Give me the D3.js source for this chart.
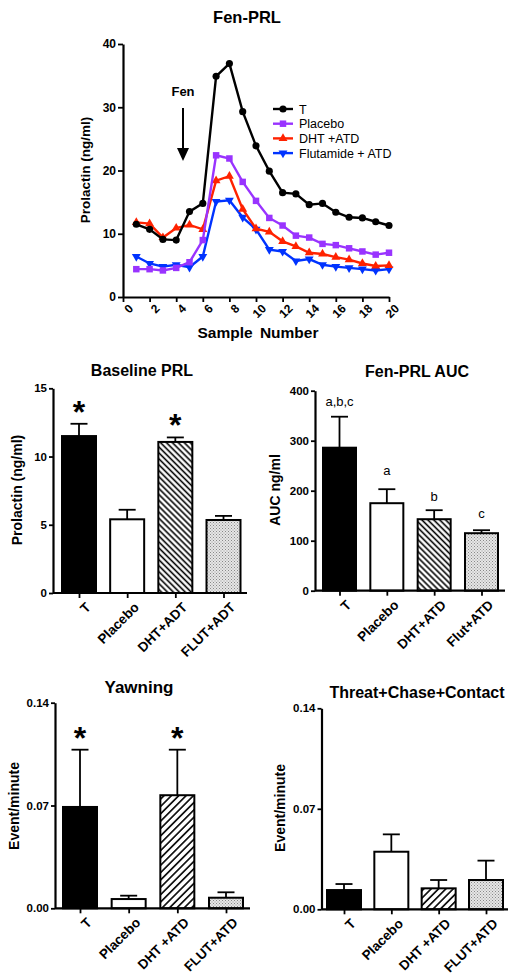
<!DOCTYPE html>
<html><head><meta charset="utf-8">
<script src="https://cdn.jsdelivr.net/npm/d3@7"></script>
<style>
body{margin:0;background:#fff;}
svg{display:block;font-family:"Liberation Sans",Arial,sans-serif;}
</style></head>
<body><svg id="c" width="519" height="979"></svg>
<script>
// ---------- DATA ----------
const sampleNumbers = [1,2,3,4,5,6,7,8,9,10,11,12,13,14,15,16,17,18,19,20];
const xTickValues = [0,2,4,6,8,10,12,14,16,18,20];
const yTickValuesLine = [0,10,20,30,40];
const seriesNames = ["T","Placebo","DHT +ATD","Flutamide + ATD"];
const seriesT =        [11.5,10.7,9.1,9.0,13.5,14.8,34.9,36.9,29.3,23.9,19.9,16.5,16.3,14.6,14.8,13.4,12.6,12.5,11.9,11.3];
const seriesPlacebo =  [4.4,4.4,4.2,4.6,5.5,9.0,22.4,21.9,18.2,15.2,12.5,11.3,9.7,9.4,8.4,8.2,7.7,7.2,6.7,7.0];
const seriesDHT =      [11.8,11.6,9.4,10.9,11.4,10.7,18.4,19.1,13.9,10.8,10.3,8.8,8.0,7.0,6.8,6.3,5.9,5.3,4.9,5.0];
const seriesFlut =     [6.4,5.3,4.8,5.1,4.7,6.4,15.1,15.3,12.6,10.7,7.5,7.2,5.7,6.0,5.1,4.8,4.6,4.4,4.2,4.4];

const baselineCats = ["T","Placebo","DHT+ADT","FLUT+ADT"];
const baselineVals = [11.5,5.4,11.07,5.35];
const baselineErr  = [12.4,6.1,11.4,5.65];
const baselineTicks = [0,5,10,15];

const aucCats = ["T","Placebo","DHT+ATD","Flut+ATD"];
const aucVals = [286,175,143,115];
const aucErr  = [348,203,161,121];
const aucTicks = [0,100,200,300,400];
const aucLetters = ["a,b,c","a","b","c"];

const yawnCats = ["T","Placebo","DHT +ATD","FLUT+ATD"];
const yawnVals = [0.069,0.0063,0.077,0.0072];
const yawnErr  = [0.108,0.0086,0.108,0.0109];
const yawnTicks = [0,0.07,0.14];

const threatCats = ["T","Placebo","DHT +ATD","FLUT+ATD"];
const threatVals = [0.0134,0.0401,0.0146,0.0204];
const threatErr  = [0.0176,0.0522,0.0204,0.0339];
const threatTicks = [0,0.07,0.14];

// ---------- SETUP ----------
const svg = d3.select("#c");
const defs = svg.append("defs");
function hatch(id, angle, spacing, sw){
  const p = defs.append("pattern").attr("id",id).attr("patternUnits","userSpaceOnUse")
    .attr("width",spacing).attr("height",spacing).attr("patternTransform",`rotate(${angle})`);
  p.append("rect").attr("width",spacing).attr("height",spacing).attr("fill","#fff");
  p.append("line").attr("x1",spacing/2).attr("y1",0).attr("x2",spacing/2).attr("y2",spacing)
    .attr("stroke","#000").attr("stroke-width",sw);
}
hatch("hatchBack",-45,4.2,1.6);
hatch("hatchFwd",45,5.2,1.6);
const dots = defs.append("pattern").attr("id","dots").attr("patternUnits","userSpaceOnUse").attr("width",3).attr("height",3);
dots.append("rect").attr("width",3).attr("height",3).attr("fill","#e6e6e6");
dots.append("rect").attr("x",0).attr("y",0).attr("width",1).attr("height",1).attr("fill","#888");
dots.append("rect").attr("x",1.5).attr("y",1.5).attr("width",1).attr("height",1).attr("fill","#999");

const FONT = '"Liberation Sans",Arial,sans-serif';

// ---------- LINE CHART ----------
const lx = d3.scaleLinear().domain([0,20]).range([123,389]);
const ly = d3.scaleLinear().domain([0,40]).range([297,44]);
const lineG = svg.append("g");

lineG.append("text").attr("x",247).attr("y",23).attr("text-anchor","middle")
  .attr("font-size",16.5).attr("font-weight","bold").text("Fen-PRL");

const yAxL = lineG.append("g").attr("transform","translate(123,0)")
  .call(d3.axisLeft(ly).tickValues(yTickValuesLine).tickSize(5).tickSizeOuter(0));
const xAxL = lineG.append("g").attr("transform","translate(0,297)")
  .call(d3.axisBottom(lx).tickValues(xTickValues).tickSize(5).tickSizeOuter(0));
[yAxL,xAxL].forEach(a=>{
  a.select(".domain").attr("stroke-width",2.2);
  a.selectAll(".tick line").attr("stroke-width",1.8);
  a.selectAll("text").attr("font-family",FONT).attr("font-weight","bold").attr("font-size",12).attr("fill","#000");
});
yAxL.selectAll("text").attr("x",-7);
xAxL.selectAll("text").attr("text-anchor","end").attr("transform","translate(4,6) rotate(-45)").attr("y",0).attr("dy","0.75em").attr("x",0);

lineG.append("text").attr("transform","translate(90,170) rotate(-90)").attr("text-anchor","middle")
  .attr("font-size",13.5).attr("font-weight","bold").text("Prolactin (ng/ml)");
lineG.append("text").attr("x",258).attr("y",338).attr("text-anchor","middle")
  .attr("font-size",15.5).attr("font-weight","bold").attr("word-spacing","3px").text("Sample Number");

// Fen arrow
lineG.append("text").attr("x",183).attr("y",96).attr("text-anchor","middle")
  .attr("font-size",13).attr("font-weight","bold").text("Fen");
lineG.append("line").attr("x1",183).attr("x2",183).attr("y1",108).attr("y2",150).attr("stroke","#000").attr("stroke-width",2);
lineG.append("path").attr("d","M177,148 L189,148 L183,161 Z").attr("fill","#000");

const series = [
  {name:seriesNames[0], vals:seriesT, color:"#000000", sym:d3.symbolCircle, size:40, rot:0},
  {name:seriesNames[1], vals:seriesPlacebo, color:"#9933ff", sym:d3.symbolSquare, size:42, rot:0},
  {name:seriesNames[2], vals:seriesDHT, color:"#ff2200", sym:d3.symbolTriangle, size:34, rot:0},
  {name:seriesNames[3], vals:seriesFlut, color:"#0033ff", sym:d3.symbolTriangle, size:34, rot:180},
];
const lineGen = d3.line().x((d,i)=>lx(sampleNumbers[i])).y(d=>ly(d));
series.slice().reverse().forEach(s=>{
  lineG.append("path").attr("d",lineGen(s.vals)).attr("fill","none").attr("stroke",s.color).attr("stroke-width",2.4);
  lineG.selectAll(null).data(s.vals).enter().append("path")
    .attr("d",d3.symbol().type(s.sym).size(s.size))
    .attr("transform",(d,i)=>`translate(${lx(sampleNumbers[i])},${ly(d)}) rotate(${s.rot})`)
    .attr("fill",s.color);
});
series.forEach((s,i)=>{
  const y = 109 + i*14.7;
  lineG.append("line").attr("x1",273).attr("x2",293).attr("y1",y).attr("y2",y).attr("stroke",s.color).attr("stroke-width",2.4);
  lineG.append("path").attr("d",d3.symbol().type(s.sym).size(s.size)).attr("transform",`translate(283,${y}) rotate(${s.rot})`).attr("fill",s.color);
  lineG.append("text").attr("x",299).attr("y",y+4.5).attr("font-size",12.5).attr("fill","#000").text(s.name);
});

// ---------- BAR PANELS ----------
function barPanel(o){
  const g = svg.append("g");
  const x = d3.scalePoint().domain(o.cats).range(o.xr);
  const y = d3.scaleLinear().domain(o.yd).range(o.yr);
  g.append("text").attr("x",o.titleX).attr("y",o.titleY).attr("text-anchor","middle")
    .attr("font-size",o.titleSize||16).attr("font-weight","bold").text(o.title);
  o.cats.forEach((c,i)=>{
    const cx = x(c);
    g.append("line").attr("x1",cx).attr("x2",cx).attr("y1",y(o.vals[i])).attr("y2",y(o.err[i])).attr("stroke","#000").attr("stroke-width",1.8);
    g.append("line").attr("x1",cx-8.5).attr("x2",cx+8.5).attr("y1",y(o.err[i])).attr("y2",y(o.err[i])).attr("stroke","#000").attr("stroke-width",1.8);
    g.append("rect").attr("x",cx-o.bw/2).attr("y",y(o.vals[i])).attr("width",o.bw).attr("height",y(0)-y(o.vals[i]))
      .attr("fill",o.fills[i]).attr("stroke","#000").attr("stroke-width",2);
  });
  const yAx = g.append("g").attr("transform",`translate(${o.ax},0)`)
    .call(d3.axisLeft(y).tickValues(o.ticks).tickFormat(o.fmt).tickSize(4).tickSizeOuter(0));
  const xAx = g.append("g").attr("transform",`translate(0,${y(0)})`)
    .call(d3.axisBottom(x).tickSize(5).tickSizeOuter(0));
  xAx.select(".domain").attr("d",`M${o.ax},0H${o.axEnd}`);
  [yAx,xAx].forEach(a=>{
    a.select(".domain").attr("stroke-width",2.2);
    a.selectAll(".tick line").attr("stroke-width",1.8);
    a.selectAll("text").attr("font-family",FONT).attr("font-weight","bold").attr("fill","#000");
  });
  yAx.selectAll("text").attr("font-size",11.5).attr("x",-6);
  xAx.selectAll("text").attr("font-size",13.5).attr("text-anchor","end").attr("y",0).attr("x",0).attr("dy","0.75em")
    .attr("transform","translate(5,8) rotate(-45)");
  g.append("text").attr("transform",`translate(${o.ylx},${o.yly}) rotate(-90)`).attr("text-anchor","middle")
    .attr("font-size",o.ylSize||14).attr("font-weight","bold").text(o.ylabel);
  return {g,x,y};
}

const fillsA = ["#000","#fff","url(#hatchBack)","url(#dots)"];
const fillsB = ["#000","#fff","url(#hatchFwd)","url(#dots)"];

const p1 = barPanel({cats:baselineCats, vals:baselineVals, err:baselineErr, ticks:baselineTicks, fmt:d3.format("d"),
  xr:[79,223.5], bw:34, yd:[0,15], yr:[593,388.3], ax:53, axEnd:247, fills:fillsA,
  title:"Baseline PRL", titleX:142, titleY:376, ylabel:"Prolactin (ng/ml)", ylx:22, yly:490});
[0,2].forEach(i=>{
  p1.g.append("text").attr("x",p1.x(baselineCats[i])).attr("y",p1.y(baselineErr[i])-1).attr("text-anchor","middle")
    .attr("font-size",32).attr("font-weight","bold").text("*");
});

const p2 = barPanel({cats:aucCats, vals:aucVals, err:aucErr, ticks:aucTicks, fmt:d3.format("d"),
  xr:[339.5,481.5], bw:33, yd:[0,400], yr:[590.7,390.7], ax:315, axEnd:505, fills:fillsA,
  title:"Fen-PRL AUC", titleX:417, titleY:377, ylabel:"AUC ng/ml", ylx:280, yly:490});
const letterY = [401.7,470.7,496.7,513.3];
aucCats.forEach((c,i)=>{
  p2.g.append("text").attr("x",p2.x(c)).attr("y",letterY[i]+4.5).attr("text-anchor","middle")
    .attr("font-size",13).attr("fill","#000").text(aucLetters[i]);
});

const p3 = barPanel({cats:yawnCats, vals:yawnVals, err:yawnErr, ticks:yawnTicks, fmt:d3.format(".2f"),
  xr:[80,226], bw:34, yd:[0,0.14], yr:[908.3,702.7], ax:55, axEnd:250, fills:fillsB,
  title:"Yawning", titleX:139, titleY:693, titleSize:17, ylabel:"Event/minute", ylx:19, yly:806});
[0,2].forEach(i=>{
  p3.g.append("text").attr("x",p3.x(yawnCats[i])).attr("y",p3.y(yawnErr[i])-1).attr("text-anchor","middle")
    .attr("font-size",32).attr("font-weight","bold").text("*");
});

const p4 = barPanel({cats:threatCats, vals:threatVals, err:threatErr, ticks:threatTicks, fmt:d3.format(".2f"),
  xr:[344,486], bw:34, yd:[0,0.14], yr:[909.3,708.3], ax:321.5, axEnd:508, fills:fillsB,
  title:"Threat+Chase+Contact", titleX:417, titleY:698, titleSize:16, ylabel:"Event/minute", ylx:285, yly:808});
</script></body></html>
